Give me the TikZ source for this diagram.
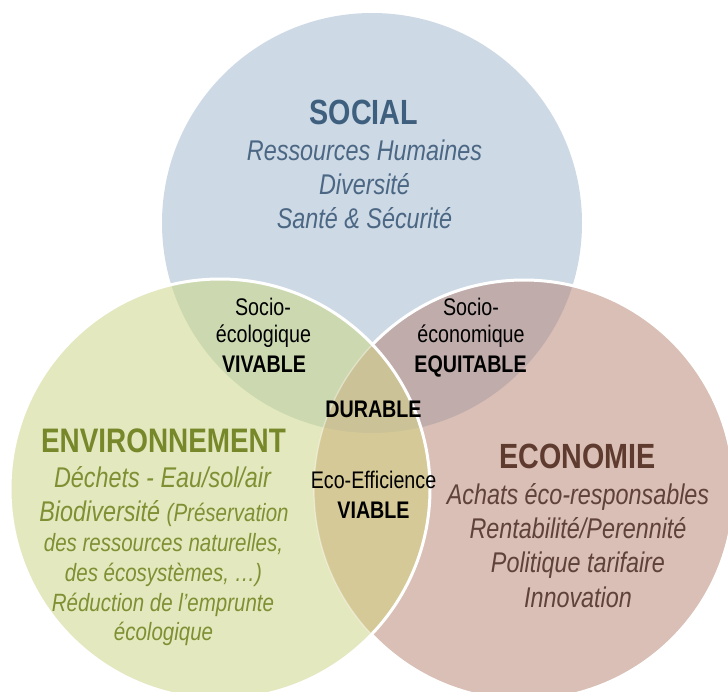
\documentclass[tikz,border=0pt]{standalone}
\usepackage{fontspec}
\setmainfont{Liberation Sans}[FakeStretch=0.82]
\definecolor{cblue}{HTML}{CDD9E5}
\definecolor{cgreen}{HTML}{E4E8BE}
\definecolor{cpink}{HTML}{D9BFB5}
\definecolor{cbg}{HTML}{CCD9B0}
\definecolor{cbp}{HTML}{C0ACAA}
\definecolor{cgp}{HTML}{D5CA97}
\definecolor{cbgp}{HTML}{CBC397}
\definecolor{tsoc}{HTML}{3F5F7F}
\definecolor{tsocI}{HTML}{4B6784}
\definecolor{tenv}{HTML}{76882A}
\definecolor{tenvI}{HTML}{7E9033}
\definecolor{teco}{HTML}{5E3B2E}
\definecolor{tecoI}{HTML}{5F4239}
\tikzset{
  ttl/.style={anchor=base, inner sep=0pt, font=\fontsize{35}{40}\selectfont\bfseries},
  itm/.style={anchor=base, inner sep=0pt, font=\fontsize{28.5}{34}\selectfont\itshape},
  subitm/.style={anchor=base, inner sep=0pt, font=\fontsize{25}{30}\selectfont\itshape},
  lbl/.style={anchor=base, inner sep=0pt, text=black, font=\fontsize{24}{28}\selectfont},
  lblb/.style={anchor=base, inner sep=0pt, text=black, font=\fontsize{24}{28}\selectfont\bfseries},
  rim/.style={draw=white, line width=3pt},
}
\begin{document}
\begin{tikzpicture}[x=1pt,y=-1pt]
\useasboundingbox (0,0) rectangle (728,691);
\coordinate (cS) at (372,223);
\coordinate (cE) at (220,489);
\coordinate (cC) at (524,490);
\def\R{210pt}
% social
\fill[cblue] (cS) circle[radius=\R];
% economie
\fill[cpink] (cC) circle[radius=\R];
\begin{scope}
  \clip (cS) circle[radius=\R];
  \fill[cbp] (cC) circle[radius=\R];
\end{scope}
\draw[rim] (cC) circle[radius=\R];
% environnement
\fill[cgreen] (cE) circle[radius=\R];
\begin{scope}
  \clip (cE) circle[radius=\R];
  \fill[cbg] (cS) circle[radius=\R];
  \fill[cgp] (cC) circle[radius=\R];
  \clip (cC) circle[radius=\R];
  \fill[cbgp] (cS) circle[radius=\R];
\end{scope}
\draw[draw=white, line width=1.2pt, opacity=0.45] (cC) circle[radius=\R];
\draw[rim] (cE) circle[radius=\R];

% SOCIAL
\node[ttl, text=tsoc] (s0) at (364,124) {SOCIAL};
\node[itm, text=tsocI] (s1) at (364.5,160) {Ressources Humaines};
\node[itm, text=tsocI] (s2) at (364.5,194) {Diversité};
\node[itm, text=tsocI] (s3) at (364.5,228) {Santé \& Sécurité};

% ENVIRONNEMENT
\node[ttl, text=tenv, font=\fontsize{34}{40}\selectfont\bfseries] (e0) at (163.5,452) {ENVIRONNEMENT};
\node[itm, text=tenvI] (e1) at (162.5,487) {Déchets - Eau/sol/air};
\node[itm, text=tenvI] (e2) at (164,521.5) {Biodiversité {\fontsize{25}{30}\selectfont(Préservation}};
\node[subitm, text=tenvI] (e3) at (163.5,551) {des ressources naturelles,};
\node[subitm, text=tenvI] (e4) at (163.5,581) {des écosystèmes, …)};
\node[subitm, text=tenvI] (e5) at (163,611) {Réduction de l’emprunte};
\node[subitm, text=tenvI] (e6) at (163.5,640) {écologique};

% ECONOMIE
\node[ttl, text=teco] (c0) at (577.5,468) {ECONOMIE};
\node[itm, text=tecoI] (c1) at (578,504) {Achats éco-responsables};
\node[itm, text=tecoI] (c2) at (578,538) {Rentabilité/Perennité};
\node[itm, text=tecoI] (c3) at (578,572) {Politique tarifaire};
\node[itm, text=tecoI] (c4) at (578,607) {Innovation};

% intersections
\node[lbl] (v1) at (263,315) {Socio-};
\node[lbl] (v2) at (263.5,342) {écologique};
\node[lblb] (v3) at (264,372) {VIVABLE};
\node[lbl] (q1) at (471,315) {Socio-};
\node[lbl] (q2) at (471,342) {économique};
\node[lblb] (q3) at (470.5,372) {EQUITABLE};
\node[lblb] (d1) at (373.5,417) {DURABLE};
\node[lbl] (f1) at (373.5,488) {Eco-Efficience};
\node[lblb] (f2) at (373.5,518) {VIABLE};
\end{tikzpicture}
\end{document}
